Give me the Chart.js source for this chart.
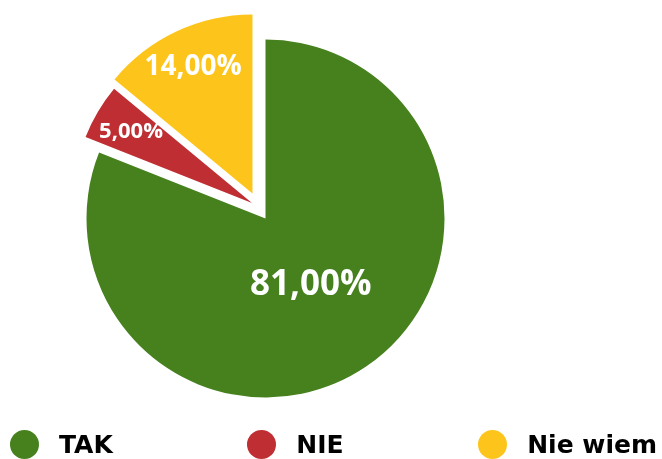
<!DOCTYPE html>
<html lang="pl">
<head>
<meta charset="utf-8">
<title>TAK / NIE / Nie wiem</title>
<script src="https://cdn.jsdelivr.net/npm/chart.js@4/dist/chart.umd.min.js"></script>
<style>
  html, body { margin: 0; padding: 0; background: #fff; }
  #wrap { position: relative; width: 662px; height: 459px; overflow: hidden; }
  #chart { position: absolute; left: 0; top: 0; }
  #legend {
    position: absolute; left: 10px; right: 5px; top: 430px; height: 29px;
    display: flex; justify-content: space-between; align-items: center;
    font-family: "DejaVu Sans", sans-serif; font-weight: bold; font-size: 25px; color: #000;
  }
  .item { display: flex; align-items: center; white-space: nowrap; }
  .dot { width: 29px; height: 29px; border-radius: 50%; margin-right: 20px; }
</style>
</head>
<body>
<div id="wrap">
  <canvas id="chart" width="662" height="459"></canvas>
  <div id="legend"></div>
</div>
<script>
// Answers and their shares (percent)
const categories = ['TAK', 'NIE', 'Nie wiem'];
const shares = [81, 5, 14];
const sliceColors = ['#46811E', '#BE2E33', '#FDC51B'];

// Format a share the Polish way: "81,00%"
function formatShare(v) {
  return v.toFixed(2).replace('.', ',') + '%';
}

// Pulls slices out of the pie: distance in px, direction in degrees clockwise from the top
const explodePlugin = {
  id: 'explodeSlices',
  beforeDatasetDraw(chart, args, opts) {
    const ctx = chart.ctx;
    args.meta.data.forEach((arc, i) => {
      const s = opts.slices[i] || { distance: 0, direction: 0 };
      const a = s.direction * Math.PI / 180;
      ctx.save();
      ctx.translate(s.distance * Math.sin(a), -s.distance * Math.cos(a));
      arc.draw(ctx);
      ctx.restore();
    });
    return false;
  }
};

// White value labels placed along each slice's bisector
const labelPlugin = {
  id: 'sliceLabels',
  afterDatasetsDraw(chart, args, opts) {
    const ctx = chart.ctx;
    const meta = chart.getDatasetMeta(0);
    const explode = chart.options.plugins.explodeSlices.slices;
    const values = chart.data.datasets[0].data;
    meta.data.forEach((arc, i) => {
      const p = arc.getProps(['x', 'y', 'startAngle', 'endAngle', 'outerRadius'], true);
      const s = explode[i] || { distance: 0, direction: 0 };
      const a = s.direction * Math.PI / 180;
      const cx = p.x + s.distance * Math.sin(a);
      const cy = p.y - s.distance * Math.cos(a);
      const mid = (p.startAngle + p.endAngle) / 2;
      const r = p.outerRadius * opts.radial[i];
      ctx.save();
      ctx.fillStyle = '#fff';
      ctx.font = 'bold ' + opts.sizes[i] + 'px "Open Sans", "Noto Sans", sans-serif';
      ctx.textAlign = 'center';
      ctx.textBaseline = 'middle';
      ctx.fillText(formatShare(values[i]), cx + Math.cos(mid) * r, cy + Math.sin(mid) * r);
      ctx.restore();
    });
  }
};

new Chart(document.getElementById('chart'), {
  type: 'pie',
  data: {
    labels: categories,
    datasets: [{
      data: shares,
      backgroundColor: sliceColors,
      borderWidth: 0,
      hoverBorderWidth: 0,
      offset: 0,
      hoverOffset: 0,
      radius: 179
    }]
  },
  options: {
    responsive: false,
    animation: false,
    events: [],
    layout: { padding: { left: 0, right: 131, top: 0, bottom: 22 } },
    plugins: {
      legend: { display: false },
      tooltip: { enabled: false },
      explodeSlices: {
        slices: [
          { distance: 0, direction: 0 },
          { distance: 20.6, direction: 319 },
          { distance: 28.2, direction: 332.5 }
        ]
      },
      sliceLabels: {
        radial: [0.45, 0.785, 0.78],
        sizes: [35, 22, 28]
      }
    }
  },
  plugins: [explodePlugin, labelPlugin]
});

// Legend row under the pie
const legend = document.getElementById('legend');
categories.forEach((name, i) => {
  const item = document.createElement('div');
  item.className = 'item';
  const dot = document.createElement('span');
  dot.className = 'dot';
  dot.style.background = sliceColors[i];
  const text = document.createElement('span');
  text.textContent = name;
  item.appendChild(dot);
  item.appendChild(text);
  legend.appendChild(item);
});
</script>
</body>
</html>
